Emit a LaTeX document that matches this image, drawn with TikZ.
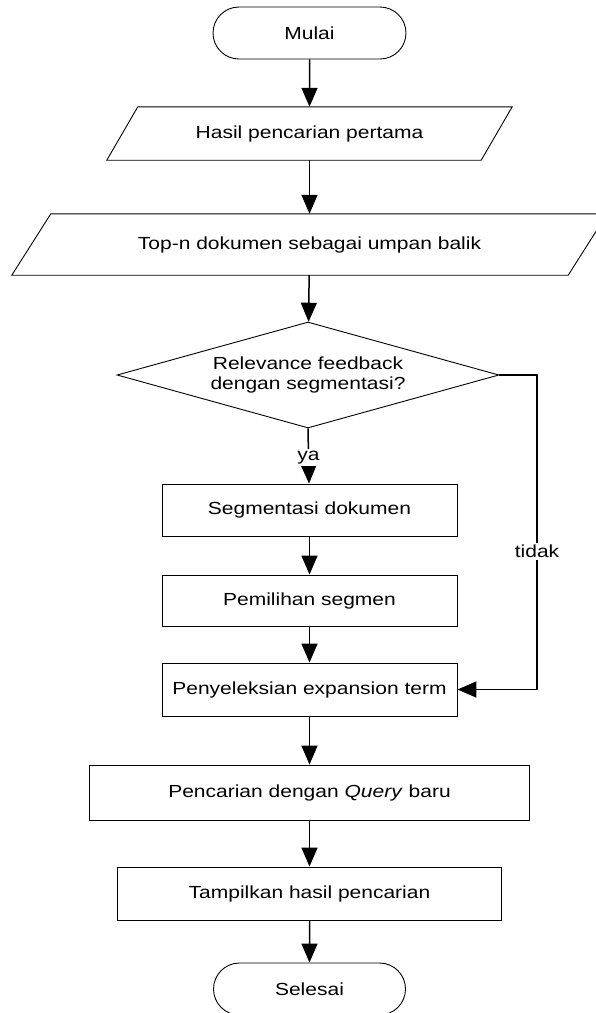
\documentclass[tikz,border=0pt]{standalone}
\usepackage{fontspec}
\setmainfont{Liberation Sans}[FakeStretch=1.2]
\usetikzlibrary{shapes.geometric,shapes.misc,arrows.meta}
\begin{document}
\begin{tikzpicture}[x=1pt,y=-1pt,
  font=\fontsize{17.5}{20}\selectfont,
  base/.style={draw, line width=0.9pt, inner sep=0pt, align=center},
  outline/.style={draw, line width=0.9pt, line join=miter},
  txt/.style={inner sep=0pt, align=center, rectangle},
  term/.style={base, rounded rectangle, minimum width=193pt, minimum height=52pt},
  proc/.style={base, rectangle},
  dec/.style={base, diamond, shape aspect=3.6, minimum width=382pt, minimum height=106pt},
  arr/.style={-{Triangle[length=19pt,width=16pt]}, line width=1.5pt},
  lbl/.style={fill=white, inner sep=2pt}]
\useasboundingbox (0,0) rectangle (595,1013);
\node[term] (mulai) at (309.5,33) {Mulai};
\node[txt, minimum width=374pt, minimum height=53pt] (hasil) at (309.5,133.5) {Hasil pencarian pertama};
\draw[outline] ([xshift=15.5pt]hasil.north west) -- ([xshift=15.5pt]hasil.north east)
  -- ([xshift=-15.5pt]hasil.south east) -- ([xshift=-15.5pt]hasil.south west) -- cycle;
\node[txt, minimum width=556pt, minimum height=61pt] (topn) at (309.5,244.5) {Top-n dokumen sebagai umpan balik};
\draw[outline] ([xshift=19.5pt]topn.north west) -- ([xshift=19.5pt]topn.north east)
  -- ([xshift=-19.5pt]topn.south east) -- ([xshift=-19.5pt]topn.south west) -- cycle;
\node[dec] (dec) at (308,375) {Relevance feedback\\dengan segmentasi?};
\node[proc, minimum width=295pt, minimum height=52pt] (seg) at (309.5,510) {Segmentasi dokumen};
\node[proc, minimum width=295pt, minimum height=51pt] (pil) at (309.5,600.5) {Pemilihan segmen};
\node[proc, minimum width=295pt, minimum height=53pt] (sel) at (309.5,689.5) {Penyeleksian expansion term};
\node[proc, minimum width=440pt, minimum height=55pt] (cari) at (309.5,792.5) {Pencarian dengan \textit{Query} baru};
\node[proc, minimum width=384pt, minimum height=53pt] (tamp) at (309.5,893.5) {Tampilkan hasil pencarian};
\node[term, minimum width=192pt] (selesai) at (309.5,989) {Selesai};
\coordinate (tc) at (537,375);
\draw[arr] (mulai) -- (hasil);
\draw[arr] (hasil) -- (topn);
\draw[arr] (topn) -- (dec);
\draw[arr] (dec.south) -- node[lbl, pos=0.52] {ya} (seg);
\draw[arr] (seg) -- (pil);
\draw[arr] (pil) -- (sel);
\draw[arr] (dec.east) -- (tc) |- node[lbl, pos=0.28] {tidak} (sel.east);
\draw[arr] (sel) -- (cari);
\draw[arr] (cari) -- (tamp);
\draw[arr] (tamp) -- (selesai);
\end{tikzpicture}
\end{document}
